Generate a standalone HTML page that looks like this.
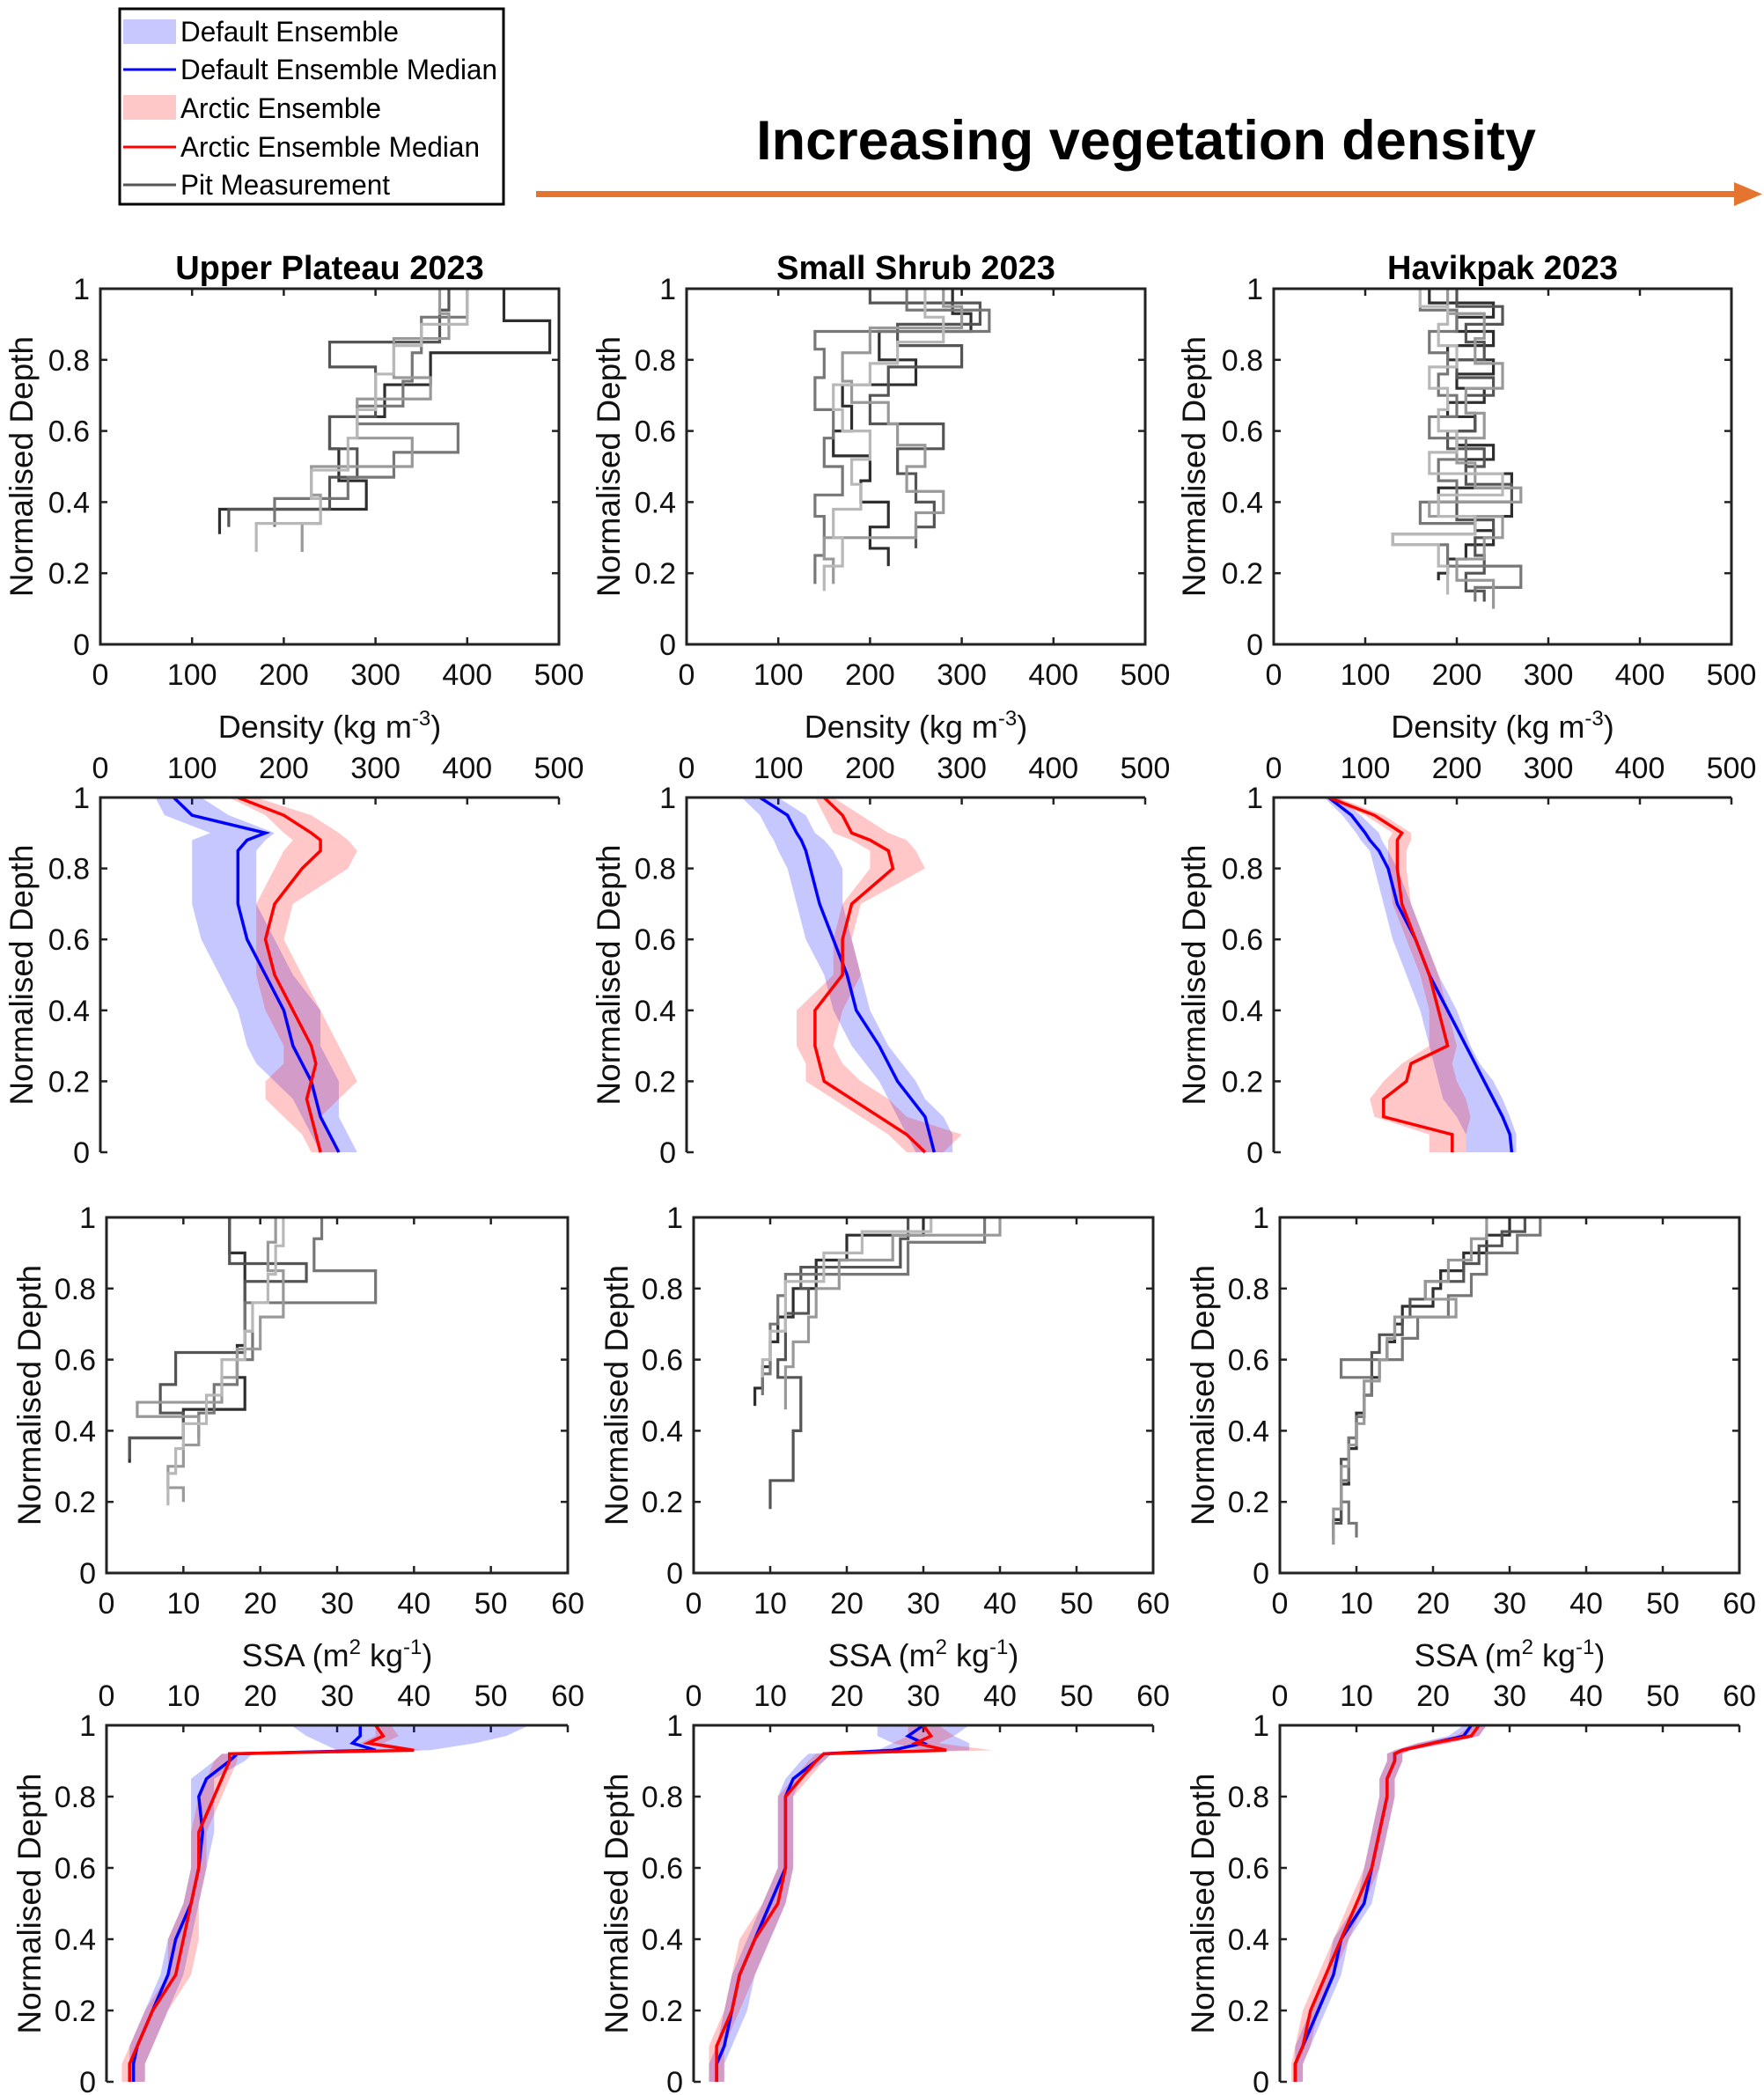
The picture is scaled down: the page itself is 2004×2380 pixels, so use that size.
<!DOCTYPE html>
<html><head><meta charset="utf-8">
<style>
html,body{margin:0;padding:0;background:#fff;}
svg{display:block;font-family:"Liberation Sans",Arial,sans-serif;}
</style></head>
<body>
<svg id="fig" width="2004" height="2380" viewBox="0 0 2004 2380" xmlns="http://www.w3.org/2000/svg">
  <g>
    <rect x="136" y="10" width="436" height="222" fill="#fff" stroke="#000" stroke-width="3"/>
    <rect x="140" y="22" width="60" height="28" fill="#c8c8ff"/>
    <text x="205" y="47" font-size="32" textLength="248" lengthAdjust="spacingAndGlyphs">Default Ensemble</text>
    <line x1="140" y1="79" x2="200" y2="79" stroke="#0000ff" stroke-width="3"/>
    <text x="205" y="90" font-size="32" textLength="360" lengthAdjust="spacingAndGlyphs">Default Ensemble Median</text>
    <rect x="140" y="108" width="60" height="28" fill="#ffc8c8"/>
    <text x="205" y="134" font-size="32" textLength="228" lengthAdjust="spacingAndGlyphs">Arctic Ensemble</text>
    <line x1="140" y1="167" x2="200" y2="167" stroke="#ff0000" stroke-width="3"/>
    <text x="205" y="178" font-size="32" textLength="340" lengthAdjust="spacingAndGlyphs">Arctic Ensemble Median</text>
    <line x1="140" y1="210" x2="200" y2="210" stroke="#555" stroke-width="3"/>
    <text x="205" y="221" font-size="32" textLength="238" lengthAdjust="spacingAndGlyphs">Pit Measurement</text>
  </g>
  <text x="1302" y="181" font-size="63" font-weight="bold" text-anchor="middle">Increasing vegetation density</text>
  <g>
    <rect x="609" y="217" width="1365" height="7" fill="#e5742f"/>
    <polygon points="1970,207 2002,220.5 1970,234" fill="#e5742f"/>
  </g>
  <g id="plots"></g>
</svg>
<script>
// ---------- Data: density pit profiles (layer boundaries, values) ----------
var upDensDepths = [
 [1,0.91,0.82,0.73,0.64,0.55,0.46,0.38,0.31],
 [1,0.94,0.85,0.78,0.64,0.55,0.47,0.38,0.33],
 [1,0.92,0.82,0.74,0.67,0.62,0.54,0.47,0.41,0.33],
 [1,0.93,0.86,0.75,0.69,0.58,0.50,0.42,0.34,0.26],
 [1,0.90,0.84,0.76,0.66,0.58,0.49,0.41,0.34,0.26]];
var upDensVals = [
 [440,490,360,310,250,260,290,130],
 [380,370,250,300,250,280,250,140],
 [400,350,340,330,280,390,320,270,190],
 [370,380,320,360,280,340,230,240,220],
 [400,350,320,300,280,270,230,240,170]];
var ssDensDepths = [
 [1,0.93,0.88,0.8,0.73,0.67,0.6,0.53,0.46,0.4,0.33,0.27,0.22],
 [1,0.96,0.9,0.84,0.78,0.7,0.62,0.55,0.48,0.4,0.33,0.27],
 [1,0.94,0.88,0.83,0.75,0.66,0.58,0.5,0.42,0.36,0.3,0.25,0.17],
 [1,0.95,0.89,0.82,0.74,0.68,0.62,0.56,0.5,0.43,0.37,0.3,0.24,0.17],
 [1,0.92,0.85,0.79,0.73,0.66,0.6,0.52,0.45,0.38,0.3,0.22,0.15]];
var ssDensVals = [
 [290,310,210,250,170,180,160,200,190,220,200,220],
 [200,320,230,300,220,200,280,230,250,270,250],
 [240,330,140,150,140,160,150,170,140,150,150,140],
 [280,300,200,170,180,220,230,260,240,280,250,150,160],
 [260,280,230,200,160,170,200,180,190,160,170,150]];
var hvDensDepths = [
 [1,0.96,0.92,0.88,0.84,0.8,0.76,0.72,0.68,0.64,0.6,0.56,0.52,0.48,0.44,0.4,0.36,0.32,0.28,0.24,0.2,0.18],
 [1,0.95,0.9,0.85,0.8,0.75,0.7,0.65,0.6,0.55,0.5,0.45,0.4,0.35,0.3,0.25,0.2,0.15,0.12],
 [1,0.94,0.88,0.82,0.76,0.7,0.64,0.58,0.52,0.46,0.4,0.34,0.31,0.28,0.22,0.16,0.12],
 [1,0.93,0.86,0.79,0.72,0.65,0.58,0.51,0.44,0.4,0.36,0.3,0.24,0.18,0.1],
 [1,0.95,0.9,0.84,0.78,0.72,0.66,0.6,0.54,0.48,0.42,0.36,0.31,0.28,0.22,0.14]];
var hvDensVals = [
 [170,240,200,240,190,240,200,230,190,220,200,240,210,260,180,260,220,240,210,190,180],
 [200,250,210,230,200,240,210,220,190,230,210,260,200,240,220,230,210,230],
 [160,200,170,190,180,200,170,210,180,200,160,220,130,190,270,220],
 [190,230,220,250,210,230,200,220,270,170,250,230,200,240],
 [160,190,180,200,170,190,180,200,170,250,180,220,130,180,190]];
// ---------- Data: SSA pit profiles ----------
var upSsaDepths = [
 [1,0.9,0.75,0.64,0.55,0.46,0.38,0.31],
 [1,0.87,0.82,0.76,0.62,0.53,0.45,0.38,0.32],
 [1,0.94,0.85,0.76,0.68,0.6,0.53,0.45,0.38],
 [1,0.93,0.85,0.78,0.72,0.63,0.55,0.48,0.44,0.36,0.3,0.24,0.2],
 [1,0.92,0.84,0.76,0.68,0.6,0.5,0.42,0.35,0.28,0.24,0.19]];
var upSsaVals = [
 [16,18,18,17,18,10,3],
 [16,26,18,18,9,7,10,3],
 [28,27,35,18,19,17,14,12],
 [22,21,23,23,20,17,15,4,12,10,8,10],
 [23,22,21,19,18,15,13,10,9,8,8]];
var ssSsaDepths = [
 [1,0.95,0.88,0.8,0.72,0.65,0.58,0.52,0.47],
 [1,0.94,0.86,0.8,0.73,0.66,0.6,0.55,0.5,0.45,0.4,0.34,0.26,0.2,0.18],
 [1,0.93,0.84,0.78,0.7,0.62,0.56,0.5],
 [1,0.95,0.88,0.8,0.72,0.65,0.58,0.52,0.46],
 [1,0.96,0.9,0.82,0.75,0.68,0.6,0.55]];
var ssSsaVals = [
 [30,20,16,13,11,10,9,8],
 [28,27,14,15,12,12,11,14,14,14,13,13,10,10],
 [38,28,12,11,10,10,9],
 [40,26,19,16,15,13,12,12],
 [31,22,17,12,12,10,9]];
var hvSsaDepths = [
 [1,0.95,0.9,0.85,0.8,0.75,0.7,0.65,0.6,0.55,0.5,0.45,0.4,0.35,0.3,0.25,0.2,0.15,0.1],
 [1,0.96,0.92,0.87,0.82,0.77,0.72,0.67,0.62,0.56,0.5,0.44,0.38,0.32,0.26,0.2,0.14,0.08],
 [1,0.95,0.9,0.84,0.78,0.72,0.66,0.6,0.55,0.5,0.44,0.38,0.32,0.26,0.2,0.14,0.1],
 [1,0.94,0.88,0.82,0.77,0.72,0.66,0.6,0.54,0.48,0.42,0.36,0.3,0.24,0.18,0.12,0.08]];
var hvSsaVals = [
 [30,27,24,21,20,16,15,14,13,12,11,10,10,9,9,8,8,7],
 [32,29,26,24,19,17,16,13,12,12,11,10,9,8,8,8,7],
 [34,31,27,25,22,18,16,8,12,11,10,9,9,8,9,10],
 [27,25,22,19,23,15,14,13,11,11,10,9,8,8,7,7]];
// ---------- Data: density ensembles ----------
var densEnsDepth = [1,0.95,0.9,0.88,0.85,0.8,0.7,0.6,0.5,0.4,0.3,0.25,0.2,0.15,0.1,0.05,0];
var upDefMed = [80,100,180,160,150,150,150,160,180,200,210,220,230,235,240,250,260];
var upDefLo  = [60,70,120,100,100,100,100,110,130,150,160,170,190,210,220,230,240];
var upDefHi  = [110,140,190,180,170,170,170,190,210,240,240,250,260,260,260,270,280];
var upArcMed = [150,200,230,240,240,220,190,180,190,210,230,235,230,225,230,235,240];
var upArcLo  = [140,180,200,210,200,190,170,170,170,180,200,200,180,180,200,220,230];
var upArcHi  = [170,230,260,270,280,270,210,200,220,240,260,270,280,260,240,250,260];
var ssDefMed = [80,110,120,125,130,135,145,160,175,185,210,220,230,245,260,265,270];
var ssDefLo  = [60,80,90,95,100,110,120,130,150,160,180,195,210,220,230,240,250];
var ssDefHi  = [100,130,140,150,160,170,170,180,190,200,220,235,250,260,280,290,290];
var ssArcMed = [150,170,180,200,220,225,180,170,170,140,140,145,150,180,210,240,260];
var ssArcLo  = [140,150,160,180,200,200,170,160,160,120,120,130,130,160,190,220,240];
var ssArcHi  = [160,190,220,240,250,260,190,180,190,170,160,170,190,220,240,300,280];
var hvDefMed = [60,85,100,105,115,125,135,155,170,190,210,220,230,240,250,258,260];
var hvDefLo  = [55,75,90,95,105,110,120,130,145,160,170,175,180,185,200,210,210];
var hvDefHi  = [70,95,115,118,125,135,150,165,180,200,215,225,240,250,258,265,265];
var hvArcMed = [60,110,140,135,135,135,140,155,170,180,190,150,145,120,120,195,195];
var hvArcLo  = [55,100,130,125,125,125,130,145,160,170,170,140,120,105,110,170,170];
var hvArcHi  = [70,120,150,150,145,145,150,165,180,190,200,195,200,210,215,210,210];
// ---------- Data: SSA ensembles ----------
var ssaEnsDepth = [1,0.97,0.95,0.93,0.92,0.9,0.85,0.8,0.7,0.6,0.5,0.4,0.3,0.2,0.1,0.05,0];
var upSDefMed = [33,33,32,35,17,16,13,12,12.5,12,11,9,8,6,4,3.5,3.5];
var upSDefLo  = [24,26,28,30,15,14,11,11,11,11,10,8,7,5,3,3,3];
var upSDefHi  = [55,52,48,42,19,18,14,14,14,13,12,11,10,8,6,5,5];
var upSArcMed = [35,36,34,40,16,16,15,14,12,12,11,10,9,6,4,3,3];
var upSArcLo  = [35,35,33,38,15,14,13,12,11,11,10,8,8,5,3,2,2];
var upSArcHi  = [37,38,36,41,17,17,16,15,13,13,12,12,11,8,6,5,5];
var ssSDefMed = [30,28,30,26,17,16,13,12,12,12,10,8,6,5,4,3,3];
var ssSDefLo  = [24,24,26,24,15,14,12,11,11,11,9,7,5,4,3,2,2];
var ssSDefHi  = [36,34,36,36,18,17,14,13,13,13,12,10,8,7,5,4,4];
var ssSArcMed = [30,31,29,33,17,16,14,12,12,12,11,8,6,5,3,3,3];
var ssSArcLo  = [28,28,26,30,16,15,13,11,11,11,9,6,5,4,2,2,2];
var ssSArcHi  = [32,34,32,39,18,17,15,13,13,13,12,10,8,6,4,4,4];
var hvSDefMed = [25,24,20,16,15,15,14,14,13,12,11,8,7,5,3,2,2];
var hvSDefLo  = [24,22,18,15,14,14,13,13,12,11,10,7,6,4,2,2,2];
var hvSDefHi  = [27,26,22,17,16,16,15,15,14,13,12,9,8,6,4,3,3];
var hvSArcMed = [26,25,20,16,15,15,14,14,13,12,10,8,6,4,3,2,2];
var hvSArcLo  = [25,23,18,15,14,14,13,13,12,11,9,7,5,3,2,1.5,1.5];
var hvSArcHi  = [27,26,22,17,16,16,15,15,14,13,11,9,7,5,4,3,3];
var densTicks = [0,100,200,300,400,500];
var ssaTicks = [0,10,20,30,40,50,60];
var depthTicks = [0,0.2,0.4,0.6,0.8,1];
var siteTitles = ["Upper Plateau 2023","Small Shrub 2023","Havikpak 2023"];
var pitGreys = ["#2e2e2e","#555555","#777777","#999999","#b8b8b8"];

var NS = "http://www.w3.org/2000/svg";
var root = document.getElementById("plots");
function mk(tag, attrs, parent) {
  var e = document.createElementNS(NS, tag);
  for (var k in attrs) e.setAttribute(k, attrs[k]);
  (parent || root).appendChild(e);
  return e;
}
function makeAxes(L, R, T, B, xmax, ticks, topAxis, box, xlabelKind, ylabelX, name) {
  var g = mk("g", {});
  
  
  var ax = { g: g, x: function (v) { return L + v / xmax * (R - L); }, y: function (d) { return B - d * (B - T); } };
  ticks.forEach(function (t) {
    var px = ax.x(t);
    mk("line", { x1: px, x2: px, y1: topAxis ? T : B, y2: topAxis ? T + 8 : B - 8, stroke: "#222", "stroke-width": 2.5 }, g);
    if (box) mk("line", { x1: px, x2: px, y1: T, y2: T + 8, stroke: "#222", "stroke-width": 2.5 }, g);
    var lab = mk("text", { x: px, y: topAxis ? T - 22 : B + 46, "font-size": 34, "text-anchor": "middle", fill: "#111" }, g);
    
    
    lab.textContent = t;
  });
  depthTicks.forEach(function (t) {
    var py = ax.y(t);
    mk("line", { x1: L, x2: L + 8, y1: py, y2: py, stroke: "#222", "stroke-width": 2.5 }, g);
    if (box) mk("line", { x1: R, x2: R - 8, y1: py, y2: py, stroke: "#222", "stroke-width": 2.5 }, g);
    var lab = mk("text", { x: L - 12, y: py + 12, "font-size": 34, "text-anchor": "end", fill: "#111" }, g);
    
    
    lab.textContent = t;
  });
  var yl = mk("text", { x: 0, y: 0, "font-size": 37, "text-anchor": "middle", fill: "#111", transform: "translate(" + ylabelX + "," + ((T + B) / 2) + ") rotate(-90)" }, g);
  
  
  yl.textContent = "Normalised Depth";
  if (xlabelKind) {
    var xl = mk("text", { x: (L + R) / 2, y: B + 106, "font-size": 36, "text-anchor": "middle", fill: "#111" }, g);
    
    
    if (xlabelKind === "dens") {
      xl.innerHTML = 'Density (kg m<tspan dy="-14" font-size="24">-3</tspan><tspan dy="14">)</tspan>';
    } else {
      xl.innerHTML = 'SSA (m<tspan dy="-14" font-size="24">2</tspan><tspan dy="14"> kg</tspan><tspan dy="-14" font-size="24">-1</tspan><tspan dy="14">)</tspan>';
    }
  }
  ax.frame = function () {
    if (box) {
      mk("rect", { x: L, y: T, width: R - L, height: B - T, fill: "none", stroke: "#222", "stroke-width": 3 }, g);
    } else {
      mk("path", { d: "M" + L + "," + B + "V" + T + "H" + R, fill: "none", stroke: "#222", "stroke-width": 3 }, g);
    }
  };
  return ax;
}
function drawPits(ax, depths, vals, name) {
  for (var p = 0; p < depths.length; p++) {
    var d = depths[p], v = vals[p];
    var s = "M" + ax.x(v[0]) + "," + ax.y(d[0]);
    for (var i = 0; i < v.length; i++) {
      s += "L" + ax.x(v[i]) + "," + ax.y(d[i + 1]);
      if (i + 1 < v.length) s += "L" + ax.x(v[i + 1]) + "," + ax.y(d[i + 1]);
    }
    var path = mk("path", { d: s, fill: "none", stroke: pitGreys[p % pitGreys.length], "stroke-width": 3.2 }, ax.g);
    
    
  }
}
function drawBand(ax, depth, lo, hi, color, name) {
  var s = "";
  for (var i = 0; i < depth.length; i++) s += (i ? "L" : "M") + ax.x(lo[i]) + "," + ax.y(depth[i]);
  for (var j = depth.length - 1; j >= 0; j--) s += "L" + ax.x(hi[j]) + "," + ax.y(depth[j]);
  var band = mk("path", { d: s + "Z", fill: color, "fill-opacity": 0.22, stroke: "none" }, ax.g);
  
  
}
function drawLine(ax, depth, med, color, name) {
  var s = "";
  for (var i = 0; i < depth.length; i++) s += (i ? "L" : "M") + ax.x(med[i]) + "," + ax.y(depth[i]);
  var line = mk("path", { d: s, fill: "none", stroke: color, "stroke-width": 3.5 }, ax.g);
  
  
}
var colsA = [[114, 635, 37], [780, 1301, 704], [1447, 1967, 1369]];
var colsB = [[121, 645, 46], [788, 1310, 713], [1454, 1976, 1379]];
var rowY = [[328, 732], [906, 1309], [1383, 1787], [1960, 2365]];
var keys = ["upper-plateau", "small-shrub", "havikpak"];
var densPitD = [upDensDepths, ssDensDepths, hvDensDepths], densPitV = [upDensVals, ssDensVals, hvDensVals];
var ssaPitD = [upSsaDepths, ssSsaDepths, hvSsaDepths], ssaPitV = [upSsaVals, ssSsaVals, hvSsaVals];
var densEns = [[upDefLo, upDefHi, upDefMed, upArcLo, upArcHi, upArcMed], [ssDefLo, ssDefHi, ssDefMed, ssArcLo, ssArcHi, ssArcMed], [hvDefLo, hvDefHi, hvDefMed, hvArcLo, hvArcHi, hvArcMed]];
var ssaEns = [[upSDefLo, upSDefHi, upSDefMed, upSArcLo, upSArcHi, upSArcMed], [ssSDefLo, ssSDefHi, ssSDefMed, ssSArcLo, ssSArcHi, ssSArcMed], [hvSDefLo, hvSDefHi, hvSDefMed, hvSArcLo, hvSArcHi, hvSArcMed]];
for (var c = 0; c < 3; c++) {
  var a = colsA[c], b = colsB[c], k = keys[c];
  var ax1 = makeAxes(a[0], a[1], rowY[0][0], rowY[0][1], 500, densTicks, false, true, "dens", a[2], k + "-density-pit-panel");
  var tt = mk("text", { x: (a[0] + a[1]) / 2, y: rowY[0][0] - 11, "font-size": 38, "font-weight": "bold", "text-anchor": "middle" }, ax1.g);
  
  
  tt.textContent = siteTitles[c];
  drawPits(ax1, densPitD[c], densPitV[c], k + "-density");
  ax1.frame();
  var ax2 = makeAxes(a[0], a[1], rowY[1][0], rowY[1][1], 500, densTicks, true, false, null, a[2], k + "-density-ensemble-panel");
  var e = densEns[c];
  drawBand(ax2, densEnsDepth, e[0], e[1], "#0000ff", k + "-density-default-band");
  drawBand(ax2, densEnsDepth, e[3], e[4], "#ff0000", k + "-density-arctic-band");
  drawLine(ax2, densEnsDepth, e[2], "#0000ff", k + "-density-default-median");
  drawLine(ax2, densEnsDepth, e[5], "#ff0000", k + "-density-arctic-median");
  ax2.frame();
  var ax3 = makeAxes(b[0], b[1], rowY[2][0], rowY[2][1], 60, ssaTicks, false, true, "ssa", b[2], k + "-ssa-pit-panel");
  drawPits(ax3, ssaPitD[c], ssaPitV[c], k + "-ssa");
  ax3.frame();
  var ax4 = makeAxes(b[0], b[1], rowY[3][0], rowY[3][1], 60, ssaTicks, true, false, null, b[2], k + "-ssa-ensemble-panel");
  var s = ssaEns[c];
  drawBand(ax4, ssaEnsDepth, s[0], s[1], "#0000ff", k + "-ssa-default-band");
  drawBand(ax4, ssaEnsDepth, s[3], s[4], "#ff0000", k + "-ssa-arctic-band");
  drawLine(ax4, ssaEnsDepth, s[2], "#0000ff", k + "-ssa-default-median");
  drawLine(ax4, ssaEnsDepth, s[5], "#ff0000", k + "-ssa-arctic-median");
  ax4.frame();
}
</script>
</body></html>
